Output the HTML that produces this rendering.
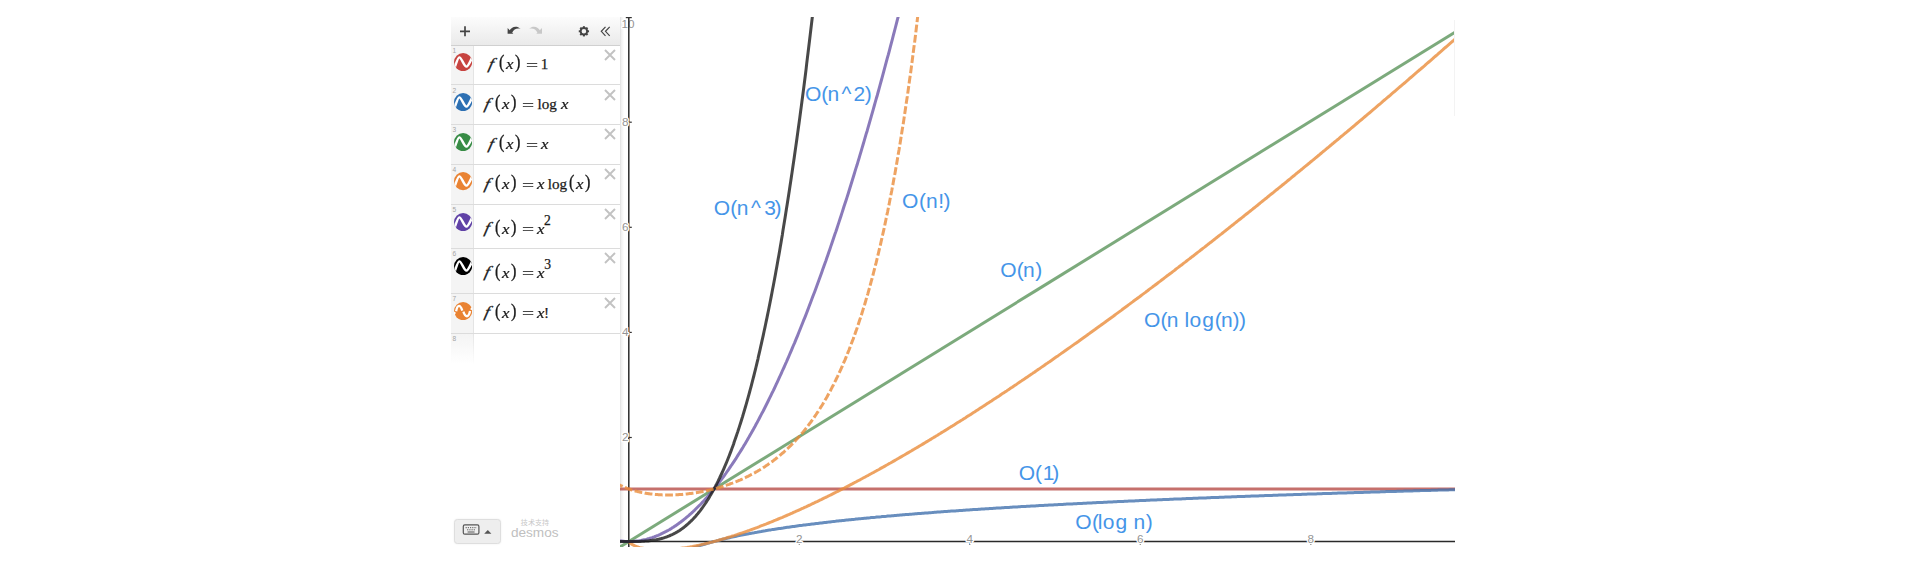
<!DOCTYPE html>
<html><head><meta charset="utf-8"><title>desmos</title>
<style>
html,body{margin:0;padding:0;background:#fff;}
body{width:1908px;height:572px;position:relative;overflow:hidden;font-family:"Liberation Sans","Noto Sans CJK SC",sans-serif;}
#panel{position:absolute;left:451px;top:17px;width:168.6px;height:530px;background:#fff;overflow:hidden;}
#bar{position:absolute;left:0;top:0;width:169px;height:28.6px;background:linear-gradient(#fcfcfc,#eaeaea);border-bottom:1px solid #d0d0d0;box-sizing:border-box;}
.row{position:absolute;left:0;width:169px;border-bottom:1px solid #dcdcdc;box-sizing:border-box;}
.tab{position:absolute;left:0;top:0;bottom:0;width:22px;background:#f4f4f4;border-right:1px solid #e4e4e4;}
.num{position:absolute;left:1.6px;top:1.2px;font-size:6.6px;color:#a4a4a4;line-height:7px;}
.ic{position:absolute;left:2.7px;}
.fx{position:absolute;left:0;top:0;font-family:"Liberation Serif",serif;color:#1a1a1a;}
.t{-webkit-text-stroke:0.25px #1a1a1a;position:absolute;display:inline-block;line-height:20px;white-space:nowrap;}
.x{position:absolute;left:152.8px;top:3.2px;}
#edge{position:absolute;left:620px;top:17px;width:3px;height:530px;background:linear-gradient(90deg,#dcdcdc,#f3f3f3 50%,#fff);}
#graph{position:absolute;left:0;top:0;}
.tk{font-family:"Liberation Sans",sans-serif;font-size:11.7px;fill:#949494;stroke:#fff;stroke-width:2.5px;paint-order:stroke;stroke-linejoin:round;}
.lb{font-family:"Liberation Sans",sans-serif;font-size:21px;fill:#4595e8;}
#kb{position:absolute;left:454.2px;top:519px;width:47.2px;height:24.5px;box-sizing:border-box;background:#eeeeee;border:1px solid #dedede;border-radius:3.5px;box-shadow:0 0 2px rgba(0,0,0,0.08);}
#pw{position:absolute;left:511px;top:518.5px;width:48px;text-align:center;font-size:7px;line-height:8px;color:#c8c8c8;letter-spacing:0.1px;}
#dm{position:absolute;left:511.1px;top:524.9px;font-size:13.6px;line-height:16px;color:#c0c0c0;letter-spacing:-0.05px;}
</style></head>
<body>
<svg id="graph" width="1908" height="572" viewBox="0 0 1908 572">
<defs><clipPath id="gc"><rect x="620" y="17" width="835" height="530"/></clipPath></defs>
<defs><linearGradient id="eg" x1="0" x2="1" y1="0" y2="0"><stop offset="0" stop-color="#d8d8d8"/><stop offset="0.35" stop-color="#efefef"/><stop offset="1" stop-color="#ffffff"/></linearGradient></defs>
<rect x="619.6" y="17" width="4.6" height="530" fill="url(#eg)"/>
<g clip-path="url(#gc)">
<text x="634.6" y="27.9" class="tk" text-anchor="end">10</text>
<line x1="628.8" y1="17" x2="628.8" y2="547" stroke="#2a2a2a" stroke-width="1.5"/>
<line x1="620" y1="541.4" x2="1455" y2="541.4" stroke="#2a2a2a" stroke-width="1.5"/>
<line x1="799.3" y1="540.4" x2="799.3" y2="544.8" stroke="#333" stroke-width="1.2"/>
<line x1="969.8" y1="540.4" x2="969.8" y2="544.8" stroke="#333" stroke-width="1.2"/>
<line x1="1140.3" y1="540.4" x2="1140.3" y2="544.8" stroke="#333" stroke-width="1.2"/>
<line x1="1310.8" y1="540.4" x2="1310.8" y2="544.8" stroke="#333" stroke-width="1.2"/>
<line x1="628.8" y1="437.5" x2="631.8" y2="437.5" stroke="#333" stroke-width="1.2"/>
<line x1="628.8" y1="332.4" x2="631.8" y2="332.4" stroke="#333" stroke-width="1.2"/>
<line x1="628.8" y1="227.3" x2="631.8" y2="227.3" stroke="#333" stroke-width="1.2"/>
<line x1="628.8" y1="122.2" x2="631.8" y2="122.2" stroke="#333" stroke-width="1.2"/>
<line x1="625.8" y1="17.6" x2="631.8" y2="17.6" stroke="#333" stroke-width="1.2"/>
<text x="799.3" y="542.6" class="tk" text-anchor="middle">2</text>
<text x="969.8" y="542.6" class="tk" text-anchor="middle">4</text>
<text x="1140.3" y="542.6" class="tk" text-anchor="middle">6</text>
<text x="1310.8" y="542.6" class="tk" text-anchor="middle">8</text>
<text x="628.5" y="440.8" class="tk" text-anchor="end">2</text>
<text x="628.5" y="335.7" class="tk" text-anchor="end">4</text>
<text x="628.5" y="230.6" class="tk" text-anchor="end">6</text>
<text x="628.5" y="125.5" class="tk" text-anchor="end">8</text>
<g style="filter:blur(0.35px)">
<path d="M615.7 488.9 L1037.5 488.9 L1459.3 488.9" stroke="#b64c47" stroke-opacity="0.8" stroke-width="3.0" fill="none" stroke-linejoin="round"/>
<path d="M638.6 590.9 L639.9 587.9 L641.3 585.3 L642.7 582.9 L644.1 580.7 L645.5 578.8 L646.8 577.0 L648.2 575.3 L649.6 573.7 L651.0 572.2 L652.3 570.9 L653.7 569.6 L655.1 568.3 L656.5 567.2 L657.8 566.1 L659.2 565.0 L660.6 564.0 L662.0 563.0 L663.4 562.1 L664.7 561.2 L666.1 560.4 L667.5 559.5 L668.9 558.7 L670.2 558.0 L671.6 557.2 L673.0 556.5 L674.4 555.8 L675.7 555.1 L677.1 554.5 L678.5 553.8 L679.9 553.2 L681.3 552.6 L682.6 552.0 L684.0 551.4 L685.4 550.9 L686.8 550.3 L688.1 549.8 L689.5 549.2 L690.9 548.7 L692.3 548.2 L693.7 547.7 L695.0 547.3 L696.4 546.8 L697.8 546.3 L699.2 545.9 L700.5 545.4 L701.9 545.0 L703.3 544.6 L704.7 544.2 L706.0 543.8 L707.4 543.3 L708.8 543.0 L710.2 542.6 L711.6 542.2 L712.9 541.8 L714.3 541.4 L715.7 541.1 L717.1 540.7 L718.4 540.4 L719.8 540.0 L721.2 539.7 L722.6 539.3 L723.9 539.0 L725.3 538.7 L726.7 538.3 L728.1 538.0 L729.5 537.7 L730.8 537.4 L732.2 537.1 L733.6 536.8 L735.0 536.5 L736.3 536.2 L737.7 535.9 L739.1 535.6 L740.5 535.3 L741.8 535.1 L743.2 534.8 L744.6 534.5 L746.0 534.2 L747.4 534.0 L748.7 533.7 L750.1 533.4 L751.5 533.2 L752.9 532.9 L754.2 532.7 L755.6 532.4 L757.0 532.2 L758.4 531.9 L759.7 531.7 L761.1 531.5 L762.5 531.2 L763.9 531.0 L765.3 530.8 L766.6 530.5 L768.0 530.3 L769.4 530.1 L770.8 529.9 L772.1 529.6 L773.5 529.4 L774.9 529.2 L776.3 529.0 L777.6 528.8 L779.0 528.6 L780.4 528.4 L781.8 528.2 L783.2 528.0 L784.5 527.7 L785.9 527.5 L787.3 527.3 L788.7 527.2 L790.0 527.0 L791.4 526.8 L792.8 526.6 L794.2 526.4 L795.5 526.2 L796.9 526.0 L798.3 525.8 L799.7 525.6 L801.1 525.4 L802.4 525.3 L803.8 525.1 L805.2 524.9 L806.6 524.7 L807.9 524.6 L809.3 524.4 L810.7 524.2 L812.1 524.0 L813.4 523.9 L814.8 523.7 L816.2 523.5 L817.6 523.4 L819.0 523.2 L820.3 523.0 L821.7 522.9 L823.1 522.7 L824.5 522.5 L825.8 522.4 L827.2 522.2 L828.6 522.1 L830.0 521.9 L831.4 521.7 L832.7 521.6 L834.1 521.4 L835.5 521.3 L836.9 521.1 L838.2 521.0 L839.6 520.8 L841.0 520.7 L842.4 520.5 L843.7 520.4 L845.1 520.2 L846.5 520.1 L847.9 520.0 L849.3 519.8 L850.6 519.7 L852.0 519.5 L853.4 519.4 L854.8 519.3 L856.1 519.1 L857.5 519.0 L858.9 518.8 L860.3 518.7 L861.6 518.6 L863.0 518.4 L864.4 518.3 L865.8 518.2 L867.2 518.0 L868.5 517.9 L869.9 517.8 L871.3 517.6 L872.7 517.5 L874.0 517.4 L875.4 517.3 L876.8 517.1 L878.2 517.0 L879.5 516.9 L880.9 516.8 L882.3 516.6 L883.7 516.5 L885.1 516.4 L886.4 516.3 L887.8 516.1 L889.2 516.0 L890.6 515.9 L891.9 515.8 L893.3 515.7 L894.7 515.5 L896.1 515.4 L897.4 515.3 L898.8 515.2 L900.2 515.1 L901.6 515.0 L903.0 514.8 L904.3 514.7 L905.7 514.6 L907.1 514.5 L908.5 514.4 L909.8 514.3 L911.2 514.2 L912.6 514.1 L914.0 513.9 L915.3 513.8 L916.7 513.7 L918.1 513.6 L919.5 513.5 L920.9 513.4 L922.2 513.3 L923.6 513.2 L925.0 513.1 L926.4 513.0 L927.7 512.9 L929.1 512.8 L930.5 512.7 L931.9 512.6 L933.2 512.4 L934.6 512.3 L936.0 512.2 L937.4 512.1 L938.8 512.0 L940.1 511.9 L941.5 511.8 L942.9 511.7 L944.3 511.6 L945.6 511.5 L947.0 511.4 L948.4 511.3 L949.8 511.2 L951.1 511.1 L952.5 511.0 L953.9 511.0 L955.3 510.9 L956.7 510.8 L958.0 510.7 L959.4 510.6 L960.8 510.5 L962.2 510.4 L963.5 510.3 L964.9 510.2 L966.3 510.1 L967.7 510.0 L969.1 509.9 L970.4 509.8 L971.8 509.7 L973.2 509.6 L974.6 509.5 L975.9 509.5 L977.3 509.4 L978.7 509.3 L980.1 509.2 L981.4 509.1 L982.8 509.0 L984.2 508.9 L985.6 508.8 L987.0 508.7 L988.3 508.7 L989.7 508.6 L991.1 508.5 L992.5 508.4 L993.8 508.3 L995.2 508.2 L996.6 508.1 L998.0 508.1 L999.3 508.0 L1000.7 507.9 L1002.1 507.8 L1003.5 507.7 L1004.9 507.6 L1006.2 507.5 L1007.6 507.5 L1009.0 507.4 L1010.4 507.3 L1011.7 507.2 L1013.1 507.1 L1014.5 507.1 L1015.9 507.0 L1017.2 506.9 L1018.6 506.8 L1020.0 506.7 L1021.4 506.6 L1022.8 506.6 L1024.1 506.5 L1025.5 506.4 L1026.9 506.3 L1028.3 506.3 L1029.6 506.2 L1031.0 506.1 L1032.4 506.0 L1033.8 505.9 L1035.1 505.9 L1036.5 505.8 L1037.9 505.7 L1039.3 505.6 L1040.7 505.6 L1042.0 505.5 L1043.4 505.4 L1044.8 505.3 L1046.2 505.3 L1047.5 505.2 L1048.9 505.1 L1050.3 505.0 L1051.7 505.0 L1053.0 504.9 L1054.4 504.8 L1055.8 504.7 L1057.2 504.7 L1058.6 504.6 L1059.9 504.5 L1061.3 504.4 L1062.7 504.4 L1064.1 504.3 L1065.4 504.2 L1066.8 504.1 L1068.2 504.1 L1069.6 504.0 L1070.9 503.9 L1072.3 503.9 L1073.7 503.8 L1075.1 503.7 L1076.5 503.7 L1077.8 503.6 L1079.2 503.5 L1080.6 503.4 L1082.0 503.4 L1083.3 503.3 L1084.7 503.2 L1086.1 503.2 L1087.5 503.1 L1088.8 503.0 L1090.2 503.0 L1091.6 502.9 L1093.0 502.8 L1094.4 502.8 L1095.7 502.7 L1097.1 502.6 L1098.5 502.6 L1099.9 502.5 L1101.2 502.4 L1102.6 502.4 L1104.0 502.3 L1105.4 502.2 L1106.8 502.2 L1108.1 502.1 L1109.5 502.0 L1110.9 502.0 L1112.3 501.9 L1113.6 501.8 L1115.0 501.8 L1116.4 501.7 L1117.8 501.6 L1119.1 501.6 L1120.5 501.5 L1121.9 501.4 L1123.3 501.4 L1124.7 501.3 L1126.0 501.3 L1127.4 501.2 L1128.8 501.1 L1130.2 501.1 L1131.5 501.0 L1132.9 500.9 L1134.3 500.9 L1135.7 500.8 L1137.0 500.8 L1138.4 500.7 L1139.8 500.6 L1141.2 500.6 L1142.6 500.5 L1143.9 500.4 L1145.3 500.4 L1146.7 500.3 L1148.1 500.3 L1149.4 500.2 L1150.8 500.1 L1152.2 500.1 L1153.6 500.0 L1154.9 500.0 L1156.3 499.9 L1157.7 499.8 L1159.1 499.8 L1160.5 499.7 L1161.8 499.7 L1163.2 499.6 L1164.6 499.5 L1166.0 499.5 L1167.3 499.4 L1168.7 499.4 L1170.1 499.3 L1171.5 499.3 L1172.8 499.2 L1174.2 499.1 L1175.6 499.1 L1177.0 499.0 L1178.4 499.0 L1179.7 498.9 L1181.1 498.9 L1182.5 498.8 L1183.9 498.7 L1185.2 498.7 L1186.6 498.6 L1188.0 498.6 L1189.4 498.5 L1190.7 498.5 L1192.1 498.4 L1193.5 498.3 L1194.9 498.3 L1196.3 498.2 L1197.6 498.2 L1199.0 498.1 L1200.4 498.1 L1201.8 498.0 L1203.1 498.0 L1204.5 497.9 L1205.9 497.9 L1207.3 497.8 L1208.6 497.7 L1210.0 497.7 L1211.4 497.6 L1212.8 497.6 L1214.2 497.5 L1215.5 497.5 L1216.9 497.4 L1218.3 497.4 L1219.7 497.3 L1221.0 497.3 L1222.4 497.2 L1223.8 497.2 L1225.2 497.1 L1226.5 497.1 L1227.9 497.0 L1229.3 496.9 L1230.7 496.9 L1232.1 496.8 L1233.4 496.8 L1234.8 496.7 L1236.2 496.7 L1237.6 496.6 L1238.9 496.6 L1240.3 496.5 L1241.7 496.5 L1243.1 496.4 L1244.5 496.4 L1245.8 496.3 L1247.2 496.3 L1248.6 496.2 L1250.0 496.2 L1251.3 496.1 L1252.7 496.1 L1254.1 496.0 L1255.5 496.0 L1256.8 495.9 L1258.2 495.9 L1259.6 495.8 L1261.0 495.8 L1262.4 495.7 L1263.7 495.7 L1265.1 495.6 L1266.5 495.6 L1267.9 495.5 L1269.2 495.5 L1270.6 495.4 L1272.0 495.4 L1273.4 495.3 L1274.7 495.3 L1276.1 495.2 L1277.5 495.2 L1278.9 495.1 L1280.3 495.1 L1281.6 495.0 L1283.0 495.0 L1284.4 494.9 L1285.8 494.9 L1287.1 494.8 L1288.5 494.8 L1289.9 494.8 L1291.3 494.7 L1292.6 494.7 L1294.0 494.6 L1295.4 494.6 L1296.8 494.5 L1298.2 494.5 L1299.5 494.4 L1300.9 494.4 L1302.3 494.3 L1303.7 494.3 L1305.0 494.2 L1306.4 494.2 L1307.8 494.1 L1309.2 494.1 L1310.5 494.1 L1311.9 494.0 L1313.3 494.0 L1314.7 493.9 L1316.1 493.9 L1317.4 493.8 L1318.8 493.8 L1320.2 493.7 L1321.6 493.7 L1322.9 493.6 L1324.3 493.6 L1325.7 493.5 L1327.1 493.5 L1328.4 493.5 L1329.8 493.4 L1331.2 493.4 L1332.6 493.3 L1334.0 493.3 L1335.3 493.2 L1336.7 493.2 L1338.1 493.1 L1339.5 493.1 L1340.8 493.1 L1342.2 493.0 L1343.6 493.0 L1345.0 492.9 L1346.3 492.9 L1347.7 492.8 L1349.1 492.8 L1350.5 492.8 L1351.9 492.7 L1353.2 492.7 L1354.6 492.6 L1356.0 492.6 L1357.4 492.5 L1358.7 492.5 L1360.1 492.4 L1361.5 492.4 L1362.9 492.4 L1364.2 492.3 L1365.6 492.3 L1367.0 492.2 L1368.4 492.2 L1369.8 492.2 L1371.1 492.1 L1372.5 492.1 L1373.9 492.0 L1375.3 492.0 L1376.6 491.9 L1378.0 491.9 L1379.4 491.9 L1380.8 491.8 L1382.2 491.8 L1383.5 491.7 L1384.9 491.7 L1386.3 491.6 L1387.7 491.6 L1389.0 491.6 L1390.4 491.5 L1391.8 491.5 L1393.2 491.4 L1394.5 491.4 L1395.9 491.4 L1397.3 491.3 L1398.7 491.3 L1400.1 491.2 L1401.4 491.2 L1402.8 491.2 L1404.2 491.1 L1405.6 491.1 L1406.9 491.0 L1408.3 491.0 L1409.7 491.0 L1411.1 490.9 L1412.4 490.9 L1413.8 490.8 L1415.2 490.8 L1416.6 490.8 L1418.0 490.7 L1419.3 490.7 L1420.7 490.6 L1422.1 490.6 L1423.5 490.6 L1424.8 490.5 L1426.2 490.5 L1427.6 490.4 L1429.0 490.4 L1430.3 490.4 L1431.7 490.3 L1433.1 490.3 L1434.5 490.2 L1435.9 490.2 L1437.2 490.2 L1438.6 490.1 L1440.0 490.1 L1441.4 490.0 L1442.7 490.0 L1444.1 490.0 L1445.5 489.9 L1446.9 489.9 L1448.2 489.9 L1449.6 489.8 L1451.0 489.8 L1452.4 489.7 L1453.8 489.7 L1455.1 489.7 L1456.5 489.6 L1457.9 489.6 L1459.3 489.5" stroke="#4272ae" stroke-opacity="0.8" stroke-width="3.0" fill="none" stroke-linejoin="round"/>
<path d="M615.7 549.6 L1037.5 289.6 L1459.3 29.6" stroke="#5b955b" stroke-opacity="0.8" stroke-width="3.0" fill="none" stroke-linejoin="round"/>
<path d="M628.8 541.6 L630.2 543.1 L631.6 544.1 L633.0 544.9 L634.4 545.6 L635.8 546.2 L637.1 546.7 L638.5 547.2 L639.9 547.6 L641.3 547.9 L642.7 548.2 L644.1 548.5 L645.5 548.8 L646.8 549.0 L648.2 549.2 L649.6 549.4 L651.0 549.5 L652.4 549.6 L653.8 549.7 L655.1 549.8 L656.5 549.8 L657.9 549.9 L659.3 549.9 L660.7 549.9 L662.1 549.9 L663.4 549.9 L664.8 549.8 L666.2 549.7 L667.6 549.7 L669.0 549.6 L670.4 549.5 L671.7 549.4 L673.1 549.3 L674.5 549.1 L675.9 549.0 L677.3 548.8 L678.7 548.7 L680.1 548.5 L681.4 548.3 L682.8 548.1 L684.2 547.9 L685.6 547.7 L687.0 547.5 L688.4 547.2 L689.7 547.0 L691.1 546.7 L692.5 546.5 L693.9 546.2 L695.3 545.9 L696.7 545.6 L698.0 545.4 L699.4 545.1 L700.8 544.8 L702.2 544.4 L703.6 544.1 L705.0 543.8 L706.3 543.5 L707.7 543.1 L709.1 542.8 L710.5 542.4 L711.9 542.1 L713.3 541.7 L714.7 541.3 L716.0 541.0 L717.4 540.6 L718.8 540.2 L720.2 539.8 L721.6 539.4 L723.0 539.0 L724.3 538.6 L725.7 538.2 L727.1 537.7 L728.5 537.3 L729.9 536.9 L731.3 536.5 L732.6 536.0 L734.0 535.6 L735.4 535.1 L736.8 534.7 L738.2 534.2 L739.6 533.7 L740.9 533.3 L742.3 532.8 L743.7 532.3 L745.1 531.8 L746.5 531.3 L747.9 530.8 L749.3 530.4 L750.6 529.9 L752.0 529.3 L753.4 528.8 L754.8 528.3 L756.2 527.8 L757.6 527.3 L758.9 526.8 L760.3 526.2 L761.7 525.7 L763.1 525.2 L764.5 524.6 L765.9 524.1 L767.2 523.5 L768.6 523.0 L770.0 522.4 L771.4 521.9 L772.8 521.3 L774.2 520.7 L775.6 520.2 L776.9 519.6 L778.3 519.0 L779.7 518.4 L781.1 517.8 L782.5 517.3 L783.9 516.7 L785.2 516.1 L786.6 515.5 L788.0 514.9 L789.4 514.3 L790.8 513.7 L792.2 513.1 L793.5 512.4 L794.9 511.8 L796.3 511.2 L797.7 510.6 L799.1 510.0 L800.5 509.3 L801.8 508.7 L803.2 508.1 L804.6 507.4 L806.0 506.8 L807.4 506.1 L808.8 505.5 L810.2 504.9 L811.5 504.2 L812.9 503.5 L814.3 502.9 L815.7 502.2 L817.1 501.6 L818.5 500.9 L819.8 500.2 L821.2 499.6 L822.6 498.9 L824.0 498.2 L825.4 497.5 L826.8 496.9 L828.1 496.2 L829.5 495.5 L830.9 494.8 L832.3 494.1 L833.7 493.4 L835.1 492.7 L836.4 492.0 L837.8 491.3 L839.2 490.6 L840.6 489.9 L842.0 489.2 L843.4 488.5 L844.8 487.8 L846.1 487.0 L847.5 486.3 L848.9 485.6 L850.3 484.9 L851.7 484.2 L853.1 483.4 L854.4 482.7 L855.8 482.0 L857.2 481.2 L858.6 480.5 L860.0 479.8 L861.4 479.0 L862.7 478.3 L864.1 477.5 L865.5 476.8 L866.9 476.0 L868.3 475.3 L869.7 474.5 L871.0 473.8 L872.4 473.0 L873.8 472.3 L875.2 471.5 L876.6 470.7 L878.0 470.0 L879.4 469.2 L880.7 468.4 L882.1 467.6 L883.5 466.9 L884.9 466.1 L886.3 465.3 L887.7 464.5 L889.0 463.7 L890.4 463.0 L891.8 462.2 L893.2 461.4 L894.6 460.6 L896.0 459.8 L897.3 459.0 L898.7 458.2 L900.1 457.4 L901.5 456.6 L902.9 455.8 L904.3 455.0 L905.6 454.2 L907.0 453.4 L908.4 452.6 L909.8 451.8 L911.2 451.0 L912.6 450.1 L914.0 449.3 L915.3 448.5 L916.7 447.7 L918.1 446.9 L919.5 446.0 L920.9 445.2 L922.3 444.4 L923.6 443.6 L925.0 442.7 L926.4 441.9 L927.8 441.1 L929.2 440.2 L930.6 439.4 L931.9 438.5 L933.3 437.7 L934.7 436.9 L936.1 436.0 L937.5 435.2 L938.9 434.3 L940.3 433.5 L941.6 432.6 L943.0 431.8 L944.4 430.9 L945.8 430.1 L947.2 429.2 L948.6 428.3 L949.9 427.5 L951.3 426.6 L952.7 425.8 L954.1 424.9 L955.5 424.0 L956.9 423.1 L958.2 422.3 L959.6 421.4 L961.0 420.5 L962.4 419.7 L963.8 418.8 L965.2 417.9 L966.5 417.0 L967.9 416.1 L969.3 415.3 L970.7 414.4 L972.1 413.5 L973.5 412.6 L974.9 411.7 L976.2 410.8 L977.6 409.9 L979.0 409.0 L980.4 408.1 L981.8 407.2 L983.2 406.3 L984.5 405.4 L985.9 404.5 L987.3 403.6 L988.7 402.7 L990.1 401.8 L991.5 400.9 L992.8 400.0 L994.2 399.1 L995.6 398.2 L997.0 397.3 L998.4 396.4 L999.8 395.5 L1001.1 394.5 L1002.5 393.6 L1003.9 392.7 L1005.3 391.8 L1006.7 390.9 L1008.1 389.9 L1009.5 389.0 L1010.8 388.1 L1012.2 387.2 L1013.6 386.2 L1015.0 385.3 L1016.4 384.4 L1017.8 383.4 L1019.1 382.5 L1020.5 381.6 L1021.9 380.6 L1023.3 379.7 L1024.7 378.8 L1026.1 377.8 L1027.4 376.9 L1028.8 375.9 L1030.2 375.0 L1031.6 374.1 L1033.0 373.1 L1034.4 372.2 L1035.7 371.2 L1037.1 370.3 L1038.5 369.3 L1039.9 368.4 L1041.3 367.4 L1042.7 366.4 L1044.1 365.5 L1045.4 364.5 L1046.8 363.6 L1048.2 362.6 L1049.6 361.7 L1051.0 360.7 L1052.4 359.7 L1053.7 358.8 L1055.1 357.8 L1056.5 356.8 L1057.9 355.9 L1059.3 354.9 L1060.7 353.9 L1062.0 352.9 L1063.4 352.0 L1064.8 351.0 L1066.2 350.0 L1067.6 349.0 L1069.0 348.1 L1070.3 347.1 L1071.7 346.1 L1073.1 345.1 L1074.5 344.1 L1075.9 343.2 L1077.3 342.2 L1078.7 341.2 L1080.0 340.2 L1081.4 339.2 L1082.8 338.2 L1084.2 337.2 L1085.6 336.2 L1087.0 335.2 L1088.3 334.2 L1089.7 333.3 L1091.1 332.3 L1092.5 331.3 L1093.9 330.3 L1095.3 329.3 L1096.6 328.3 L1098.0 327.3 L1099.4 326.3 L1100.8 325.3 L1102.2 324.2 L1103.6 323.2 L1105.0 322.2 L1106.3 321.2 L1107.7 320.2 L1109.1 319.2 L1110.5 318.2 L1111.9 317.2 L1113.3 316.2 L1114.6 315.2 L1116.0 314.1 L1117.4 313.1 L1118.8 312.1 L1120.2 311.1 L1121.6 310.1 L1122.9 309.0 L1124.3 308.0 L1125.7 307.0 L1127.1 306.0 L1128.5 304.9 L1129.9 303.9 L1131.2 302.9 L1132.6 301.9 L1134.0 300.8 L1135.4 299.8 L1136.8 298.8 L1138.2 297.7 L1139.6 296.7 L1140.9 295.7 L1142.3 294.6 L1143.7 293.6 L1145.1 292.6 L1146.5 291.5 L1147.9 290.5 L1149.2 289.4 L1150.6 288.4 L1152.0 287.4 L1153.4 286.3 L1154.8 285.3 L1156.2 284.2 L1157.5 283.2 L1158.9 282.1 L1160.3 281.1 L1161.7 280.0 L1163.1 279.0 L1164.5 277.9 L1165.8 276.9 L1167.2 275.8 L1168.6 274.8 L1170.0 273.7 L1171.4 272.7 L1172.8 271.6 L1174.2 270.6 L1175.5 269.5 L1176.9 268.4 L1178.3 267.4 L1179.7 266.3 L1181.1 265.3 L1182.5 264.2 L1183.8 263.1 L1185.2 262.1 L1186.6 261.0 L1188.0 259.9 L1189.4 258.9 L1190.8 257.8 L1192.1 256.7 L1193.5 255.7 L1194.9 254.6 L1196.3 253.5 L1197.7 252.4 L1199.1 251.4 L1200.4 250.3 L1201.8 249.2 L1203.2 248.1 L1204.6 247.1 L1206.0 246.0 L1207.4 244.9 L1208.8 243.8 L1210.1 242.7 L1211.5 241.7 L1212.9 240.6 L1214.3 239.5 L1215.7 238.4 L1217.1 237.3 L1218.4 236.2 L1219.8 235.1 L1221.2 234.1 L1222.6 233.0 L1224.0 231.9 L1225.4 230.8 L1226.7 229.7 L1228.1 228.6 L1229.5 227.5 L1230.9 226.4 L1232.3 225.3 L1233.7 224.2 L1235.0 223.1 L1236.4 222.0 L1237.8 220.9 L1239.2 219.8 L1240.6 218.7 L1242.0 217.6 L1243.4 216.5 L1244.7 215.4 L1246.1 214.3 L1247.5 213.2 L1248.9 212.1 L1250.3 211.0 L1251.7 209.9 L1253.0 208.8 L1254.4 207.7 L1255.8 206.6 L1257.2 205.5 L1258.6 204.3 L1260.0 203.2 L1261.3 202.1 L1262.7 201.0 L1264.1 199.9 L1265.5 198.8 L1266.9 197.7 L1268.3 196.5 L1269.6 195.4 L1271.0 194.3 L1272.4 193.2 L1273.8 192.1 L1275.2 190.9 L1276.6 189.8 L1278.0 188.7 L1279.3 187.6 L1280.7 186.5 L1282.1 185.3 L1283.5 184.2 L1284.9 183.1 L1286.3 182.0 L1287.6 180.8 L1289.0 179.7 L1290.4 178.6 L1291.8 177.4 L1293.2 176.3 L1294.6 175.2 L1295.9 174.0 L1297.3 172.9 L1298.7 171.8 L1300.1 170.6 L1301.5 169.5 L1302.9 168.4 L1304.3 167.2 L1305.6 166.1 L1307.0 165.0 L1308.4 163.8 L1309.8 162.7 L1311.2 161.5 L1312.6 160.4 L1313.9 159.3 L1315.3 158.1 L1316.7 157.0 L1318.1 155.8 L1319.5 154.7 L1320.9 153.5 L1322.2 152.4 L1323.6 151.2 L1325.0 150.1 L1326.4 148.9 L1327.8 147.8 L1329.2 146.6 L1330.5 145.5 L1331.9 144.3 L1333.3 143.2 L1334.7 142.0 L1336.1 140.9 L1337.5 139.7 L1338.9 138.6 L1340.2 137.4 L1341.6 136.2 L1343.0 135.1 L1344.4 133.9 L1345.8 132.8 L1347.2 131.6 L1348.5 130.5 L1349.9 129.3 L1351.3 128.1 L1352.7 127.0 L1354.1 125.8 L1355.5 124.6 L1356.8 123.5 L1358.2 122.3 L1359.6 121.1 L1361.0 120.0 L1362.4 118.8 L1363.8 117.6 L1365.1 116.5 L1366.5 115.3 L1367.9 114.1 L1369.3 113.0 L1370.7 111.8 L1372.1 110.6 L1373.5 109.4 L1374.8 108.3 L1376.2 107.1 L1377.6 105.9 L1379.0 104.7 L1380.4 103.6 L1381.8 102.4 L1383.1 101.2 L1384.5 100.0 L1385.9 98.9 L1387.3 97.7 L1388.7 96.5 L1390.1 95.3 L1391.4 94.1 L1392.8 92.9 L1394.2 91.8 L1395.6 90.6 L1397.0 89.4 L1398.4 88.2 L1399.7 87.0 L1401.1 85.8 L1402.5 84.6 L1403.9 83.5 L1405.3 82.3 L1406.7 81.1 L1408.1 79.9 L1409.4 78.7 L1410.8 77.5 L1412.2 76.3 L1413.6 75.1 L1415.0 73.9 L1416.4 72.7 L1417.7 71.5 L1419.1 70.3 L1420.5 69.2 L1421.9 68.0 L1423.3 66.8 L1424.7 65.6 L1426.0 64.4 L1427.4 63.2 L1428.8 62.0 L1430.2 60.8 L1431.6 59.6 L1433.0 58.4 L1434.3 57.2 L1435.7 56.0 L1437.1 54.8 L1438.5 53.5 L1439.9 52.3 L1441.3 51.1 L1442.7 49.9 L1444.0 48.7 L1445.4 47.5 L1446.8 46.3 L1448.2 45.1 L1449.6 43.9 L1451.0 42.7 L1452.3 41.5 L1453.7 40.3 L1455.1 39.0 L1456.5 37.8 L1457.9 36.6 L1459.3 35.4" stroke="#ea8c3b" stroke-opacity="0.8" stroke-width="3.0" fill="none" stroke-linejoin="round"/>
<path d="M615.7 540.3 L616.7 540.4 L617.8 540.6 L618.8 540.8 L619.8 540.9 L620.8 541.0 L621.8 541.1 L622.8 541.2 L623.8 541.3 L624.8 541.4 L625.8 541.4 L626.8 541.5 L627.9 541.5 L628.9 541.5 L629.9 541.5 L630.9 541.5 L631.9 541.4 L632.9 541.4 L633.9 541.3 L634.9 541.2 L635.9 541.1 L636.9 541.0 L638.0 540.9 L639.0 540.8 L640.0 540.6 L641.0 540.4 L642.0 540.2 L643.0 540.0 L644.0 539.8 L645.0 539.6 L646.0 539.4 L647.0 539.1 L648.0 538.8 L649.1 538.5 L650.1 538.2 L651.1 537.9 L652.1 537.6 L653.1 537.2 L654.1 536.9 L655.1 536.5 L656.1 536.1 L657.1 535.7 L658.1 535.3 L659.2 534.8 L660.2 534.4 L661.2 533.9 L662.2 533.4 L663.2 532.9 L664.2 532.4 L665.2 531.9 L666.2 531.4 L667.2 530.8 L668.2 530.3 L669.3 529.7 L670.3 529.1 L671.3 528.5 L672.3 527.8 L673.3 527.2 L674.3 526.5 L675.3 525.9 L676.3 525.2 L677.3 524.5 L678.3 523.8 L679.3 523.0 L680.4 522.3 L681.4 521.5 L682.4 520.7 L683.4 520.0 L684.4 519.1 L685.4 518.3 L686.4 517.5 L687.4 516.6 L688.4 515.8 L689.4 514.9 L690.5 514.0 L691.5 513.1 L692.5 512.2 L693.5 511.2 L694.5 510.3 L695.5 509.3 L696.5 508.3 L697.5 507.3 L698.5 506.3 L699.5 505.3 L700.6 504.3 L701.6 503.2 L702.6 502.1 L703.6 501.1 L704.6 500.0 L705.6 498.8 L706.6 497.7 L707.6 496.6 L708.6 495.4 L709.6 494.2 L710.7 493.1 L711.7 491.9 L712.7 490.6 L713.7 489.4 L714.7 488.2 L715.7 486.9 L716.7 485.6 L717.7 484.3 L718.7 483.0 L719.7 481.7 L720.7 480.4 L721.8 479.0 L722.8 477.7 L723.8 476.3 L724.8 474.9 L725.8 473.5 L726.8 472.0 L727.8 470.6 L728.8 469.2 L729.8 467.7 L730.8 466.2 L731.9 464.7 L732.9 463.2 L733.9 461.7 L734.9 460.1 L735.9 458.6 L736.9 457.0 L737.9 455.4 L738.9 453.8 L739.9 452.2 L740.9 450.6 L742.0 448.9 L743.0 447.3 L744.0 445.6 L745.0 443.9 L746.0 442.2 L747.0 440.5 L748.0 438.7 L749.0 437.0 L750.0 435.2 L751.0 433.5 L752.0 431.7 L753.1 429.9 L754.1 428.0 L755.1 426.2 L756.1 424.3 L757.1 422.5 L758.1 420.6 L759.1 418.7 L760.1 416.8 L761.1 414.9 L762.1 412.9 L763.2 411.0 L764.2 409.0 L765.2 407.0 L766.2 405.0 L767.2 403.0 L768.2 401.0 L769.2 398.9 L770.2 396.9 L771.2 394.8 L772.2 392.7 L773.3 390.6 L774.3 388.5 L775.3 386.4 L776.3 384.2 L777.3 382.1 L778.3 379.9 L779.3 377.7 L780.3 375.5 L781.3 373.3 L782.3 371.0 L783.3 368.8 L784.4 366.5 L785.4 364.2 L786.4 362.0 L787.4 359.6 L788.4 357.3 L789.4 355.0 L790.4 352.6 L791.4 350.3 L792.4 347.9 L793.4 345.5 L794.5 343.1 L795.5 340.6 L796.5 338.2 L797.5 335.8 L798.5 333.3 L799.5 330.8 L800.5 328.3 L801.5 325.8 L802.5 323.3 L803.5 320.7 L804.6 318.1 L805.6 315.6 L806.6 313.0 L807.6 310.4 L808.6 307.8 L809.6 305.1 L810.6 302.5 L811.6 299.8 L812.6 297.1 L813.6 294.5 L814.7 291.7 L815.7 289.0 L816.7 286.3 L817.7 283.5 L818.7 280.8 L819.7 278.0 L820.7 275.2 L821.7 272.4 L822.7 269.6 L823.7 266.7 L824.7 263.9 L825.8 261.0 L826.8 258.1 L827.8 255.2 L828.8 252.3 L829.8 249.4 L830.8 246.4 L831.8 243.5 L832.8 240.5 L833.8 237.5 L834.8 234.5 L835.9 231.5 L836.9 228.5 L837.9 225.4 L838.9 222.4 L839.9 219.3 L840.9 216.2 L841.9 213.1 L842.9 210.0 L843.9 206.8 L844.9 203.7 L846.0 200.5 L847.0 197.4 L848.0 194.2 L849.0 191.0 L850.0 187.7 L851.0 184.5 L852.0 181.2 L853.0 178.0 L854.0 174.7 L855.0 171.4 L856.0 168.1 L857.1 164.8 L858.1 161.4 L859.1 158.1 L860.1 154.7 L861.1 151.3 L862.1 147.9 L863.1 144.5 L864.1 141.1 L865.1 137.6 L866.1 134.2 L867.2 130.7 L868.2 127.2 L869.2 123.7 L870.2 120.2 L871.2 116.7 L872.2 113.1 L873.2 109.6 L874.2 106.0 L875.2 102.4 L876.2 98.8 L877.3 95.2 L878.3 91.5 L879.3 87.9 L880.3 84.2 L881.3 80.5 L882.3 76.8 L883.3 73.1 L884.3 69.4 L885.3 65.7 L886.3 61.9 L887.3 58.1 L888.4 54.4 L889.4 50.6 L890.4 46.7 L891.4 42.9 L892.4 39.1 L893.4 35.2 L894.4 31.4 L895.4 27.5 L896.4 23.6 L897.4 19.7 L898.5 15.7 L899.5 11.8 L900.5 7.8 L901.5 3.8 L902.5 -0.1 L903.5 -4.2 L904.5 -8.2 L905.5 -12.2 L906.5 -16.3 L907.5 -20.3 L908.6 -24.4 L909.6 -28.5 L910.6 -32.6 L911.6 -36.7 L912.6 -40.8 L913.6 -45.0 L914.6 -49.2 L915.6 -53.3 L916.6 -57.5 L917.6 -61.8 L918.6 -66.0" stroke="#6d59a9" stroke-opacity="0.8" stroke-width="3.0" fill="none" stroke-linejoin="round"/>
<path d="M615.7 541.7 L616.4 541.7 L617.1 541.6 L617.8 541.6 L618.5 541.6 L619.2 541.6 L619.9 541.6 L620.6 541.5 L621.3 541.5 L622.0 541.5 L622.7 541.5 L623.4 541.5 L624.1 541.5 L624.8 541.5 L625.5 541.5 L626.2 541.5 L626.9 541.5 L627.6 541.5 L628.3 541.5 L629.0 541.5 L629.7 541.5 L630.4 541.5 L631.1 541.5 L631.8 541.5 L632.5 541.5 L633.2 541.5 L633.9 541.5 L634.6 541.5 L635.3 541.5 L636.0 541.5 L636.7 541.5 L637.3 541.4 L638.0 541.4 L638.7 541.4 L639.4 541.4 L640.1 541.4 L640.8 541.4 L641.5 541.3 L642.2 541.3 L642.9 541.3 L643.6 541.2 L644.3 541.2 L645.0 541.1 L645.7 541.1 L646.4 541.0 L647.1 541.0 L647.8 540.9 L648.5 540.9 L649.2 540.8 L649.9 540.7 L650.6 540.6 L651.3 540.5 L652.0 540.4 L652.7 540.3 L653.4 540.2 L654.1 540.1 L654.8 540.0 L655.5 539.9 L656.2 539.8 L656.9 539.6 L657.6 539.5 L658.3 539.3 L659.0 539.2 L659.7 539.0 L660.4 538.8 L661.1 538.7 L661.7 538.5 L662.4 538.3 L663.1 538.1 L663.8 537.9 L664.5 537.6 L665.2 537.4 L665.9 537.2 L666.6 536.9 L667.3 536.7 L668.0 536.4 L668.7 536.1 L669.4 535.8 L670.1 535.5 L670.8 535.2 L671.5 534.9 L672.2 534.6 L672.9 534.2 L673.6 533.9 L674.3 533.5 L675.0 533.1 L675.7 532.8 L676.4 532.4 L677.1 532.0 L677.8 531.5 L678.5 531.1 L679.2 530.7 L679.9 530.2 L680.6 529.7 L681.3 529.2 L682.0 528.8 L682.7 528.2 L683.4 527.7 L684.1 527.2 L684.8 526.6 L685.4 526.1 L686.1 525.5 L686.8 524.9 L687.5 524.3 L688.2 523.7 L688.9 523.1 L689.6 522.4 L690.3 521.7 L691.0 521.1 L691.7 520.4 L692.4 519.7 L693.1 518.9 L693.8 518.2 L694.5 517.4 L695.2 516.7 L695.9 515.9 L696.6 515.1 L697.3 514.2 L698.0 513.4 L698.7 512.5 L699.4 511.7 L700.1 510.8 L700.8 509.9 L701.5 508.9 L702.2 508.0 L702.9 507.0 L703.6 506.0 L704.3 505.0 L705.0 504.0 L705.7 503.0 L706.4 501.9 L707.1 500.8 L707.8 499.7 L708.5 498.6 L709.2 497.5 L709.8 496.3 L710.5 495.2 L711.2 494.0 L711.9 492.8 L712.6 491.5 L713.3 490.3 L714.0 489.0 L714.7 487.7 L715.4 486.4 L716.1 485.0 L716.8 483.7 L717.5 482.3 L718.2 480.9 L718.9 479.4 L719.6 478.0 L720.3 476.5 L721.0 475.0 L721.7 473.5 L722.4 472.0 L723.1 470.4 L723.8 468.8 L724.5 467.2 L725.2 465.5 L725.9 463.9 L726.6 462.2 L727.3 460.5 L728.0 458.8 L728.7 457.0 L729.4 455.2 L730.1 453.4 L730.8 451.6 L731.5 449.7 L732.2 447.8 L732.9 445.9 L733.6 444.0 L734.2 442.0 L734.9 440.1 L735.6 438.1 L736.3 436.0 L737.0 433.9 L737.7 431.9 L738.4 429.7 L739.1 427.6 L739.8 425.4 L740.5 423.2 L741.2 421.0 L741.9 418.7 L742.6 416.5 L743.3 414.1 L744.0 411.8 L744.7 409.4 L745.4 407.0 L746.1 404.6 L746.8 402.2 L747.5 399.7 L748.2 397.2 L748.9 394.6 L749.6 392.0 L750.3 389.4 L751.0 386.8 L751.7 384.1 L752.4 381.4 L753.1 378.7 L753.8 376.0 L754.5 373.2 L755.2 370.4 L755.9 367.5 L756.6 364.6 L757.3 361.7 L758.0 358.8 L758.6 355.8 L759.3 352.8 L760.0 349.8 L760.7 346.7 L761.4 343.6 L762.1 340.4 L762.8 337.3 L763.5 334.1 L764.2 330.8 L764.9 327.6 L765.6 324.3 L766.3 320.9 L767.0 317.6 L767.7 314.1 L768.4 310.7 L769.1 307.2 L769.8 303.7 L770.5 300.2 L771.2 296.6 L771.9 293.0 L772.6 289.3 L773.3 285.7 L774.0 281.9 L774.7 278.2 L775.4 274.4 L776.1 270.6 L776.8 266.7 L777.5 262.8 L778.2 258.8 L778.9 254.9 L779.6 250.9 L780.3 246.8 L781.0 242.7 L781.7 238.6 L782.4 234.4 L783.0 230.2 L783.7 226.0 L784.4 221.7 L785.1 217.4 L785.8 213.0 L786.5 208.6 L787.2 204.2 L787.9 199.7 L788.6 195.2 L789.3 190.7 L790.0 186.1 L790.7 181.5 L791.4 176.8 L792.1 172.1 L792.8 167.3 L793.5 162.5 L794.2 157.7 L794.9 152.8 L795.6 147.9 L796.3 143.0 L797.0 138.0 L797.7 132.9 L798.4 127.8 L799.1 122.7 L799.8 117.6 L800.5 112.3 L801.2 107.1 L801.9 101.8 L802.6 96.5 L803.3 91.1 L804.0 85.7 L804.7 80.2 L805.4 74.7 L806.1 69.1 L806.7 63.6 L807.4 57.9 L808.1 52.2 L808.8 46.5 L809.5 40.7 L810.2 34.9 L810.9 29.0 L811.6 23.1 L812.3 17.2 L813.0 11.2 L813.7 5.2 L814.4 -0.9 L815.1 -7.1 L815.8 -13.3 L816.5 -19.5 L817.2 -25.8 L817.9 -32.1 L818.6 -38.4 L819.3 -44.9 L820.0 -51.3 L820.7 -57.8 L821.4 -64.4 L822.1 -71.0 L822.8 -77.6 L823.5 -84.3" stroke="#1a1a1a" stroke-opacity="0.8" stroke-width="3.0" fill="none" stroke-linejoin="round"/>
<path d="M615.7 482.9 L616.6 483.4 L617.4 483.8 L618.2 484.3 L619.0 484.7 L619.8 485.1 L620.7 485.5 L621.5 485.9 L622.3 486.3 L623.1 486.7 L623.9 487.0 L624.8 487.4 L625.6 487.7 L626.4 488.1 L627.2 488.4 L628.1 488.7 L628.9 489.0 L629.7 489.3 L630.5 489.5 L631.3 489.8 L632.2 490.1 L633.0 490.3 L633.8 490.6 L634.6 490.8 L635.4 491.0 L636.3 491.2 L637.1 491.4 L637.9 491.7 L638.7 491.8 L639.6 492.0 L640.4 492.2 L641.2 492.4 L642.0 492.6 L642.8 492.7 L643.7 492.9 L644.5 493.0 L645.3 493.2 L646.1 493.3 L646.9 493.4 L647.8 493.5 L648.6 493.7 L649.4 493.8 L650.2 493.9 L651.0 494.0 L651.9 494.1 L652.7 494.2 L653.5 494.3 L654.3 494.3 L655.2 494.4 L656.0 494.5 L656.8 494.5 L657.6 494.6 L658.4 494.7 L659.3 494.7 L660.1 494.8 L660.9 494.8 L661.7 494.8 L662.5 494.9 L663.4 494.9 L664.2 494.9 L665.0 494.9 L665.8 494.9 L666.7 495.0 L667.5 495.0 L668.3 495.0 L669.1 495.0 L669.9 495.0 L670.8 494.9 L671.6 494.9 L672.4 494.9 L673.2 494.9 L674.0 494.9 L674.9 494.8 L675.7 494.8 L676.5 494.8 L677.3 494.7 L678.2 494.7 L679.0 494.6 L679.8 494.6 L680.6 494.5 L681.4 494.4 L682.3 494.4 L683.1 494.3 L683.9 494.2 L684.7 494.2 L685.5 494.1 L686.4 494.0 L687.2 493.9 L688.0 493.8 L688.8 493.7 L689.6 493.6 L690.5 493.5 L691.3 493.4 L692.1 493.3 L692.9 493.2 L693.8 493.1 L694.6 492.9 L695.4 492.8 L696.2 492.7 L697.0 492.5 L697.9 492.4 L698.7 492.3 L699.5 492.1 L700.3 492.0 L701.1 491.8 L702.0 491.7 L702.8 491.5 L703.6 491.4 L704.4 491.2 L705.3 491.0 L706.1 490.8 L706.9 490.7 L707.7 490.5 L708.5 490.3 L709.4 490.1 L710.2 489.9 L711.0 489.7 L711.8 489.5 L712.6 489.3 L713.5 489.1 L714.3 488.9 L715.1 488.7 L715.9 488.5 L716.7 488.2 L717.6 488.0 L718.4 487.8 L719.2 487.5 L720.0 487.3 L720.9 487.0 L721.7 486.8 L722.5 486.5 L723.3 486.3 L724.1 486.0 L725.0 485.7 L725.8 485.5 L726.6 485.2 L727.4 484.9 L728.2 484.6 L729.1 484.3 L729.9 484.0 L730.7 483.7 L731.5 483.4 L732.4 483.1 L733.2 482.8 L734.0 482.5 L734.8 482.2 L735.6 481.9 L736.5 481.5 L737.3 481.2 L738.1 480.8 L738.9 480.5 L739.7 480.1 L740.6 479.8 L741.4 479.4 L742.2 479.1 L743.0 478.7 L743.8 478.3 L744.7 477.9 L745.5 477.5 L746.3 477.1 L747.1 476.7 L748.0 476.3 L748.8 475.9 L749.6 475.5 L750.4 475.1 L751.2 474.6 L752.1 474.2 L752.9 473.8 L753.7 473.3 L754.5 472.9 L755.3 472.4 L756.2 471.9 L757.0 471.5 L757.8 471.0 L758.6 470.5 L759.5 470.0 L760.3 469.5 L761.1 469.0 L761.9 468.5 L762.7 468.0 L763.6 467.4 L764.4 466.9 L765.2 466.4 L766.0 465.8 L766.8 465.3 L767.7 464.7 L768.5 464.1 L769.3 463.6 L770.1 463.0 L770.9 462.4 L771.8 461.8 L772.6 461.2 L773.4 460.6 L774.2 459.9 L775.1 459.3 L775.9 458.7 L776.7 458.0 L777.5 457.4 L778.3 456.7 L779.2 456.0 L780.0 455.3 L780.8 454.6 L781.6 453.9 L782.4 453.2 L783.3 452.5 L784.1 451.8 L784.9 451.0 L785.7 450.3 L786.6 449.5 L787.4 448.8 L788.2 448.0 L789.0 447.2 L789.8 446.4 L790.7 445.6 L791.5 444.8 L792.3 443.9 L793.1 443.1 L793.9 442.2 L794.8 441.4 L795.6 440.5 L796.4 439.6 L797.2 438.7 L798.0 437.8 L798.9 436.9 L799.7 436.0 L800.5 435.0 L801.3 434.0 L802.2 433.1 L803.0 432.1 L803.8 431.1 L804.6 430.1 L805.4 429.1 L806.3 428.0 L807.1 427.0 L807.9 425.9 L808.7 424.8 L809.5 423.7 L810.4 422.6 L811.2 421.5 L812.0 420.4 L812.8 419.2 L813.7 418.1 L814.5 416.9 L815.3 415.7 L816.1 414.5 L816.9 413.2 L817.8 412.0 L818.6 410.7 L819.4 409.5 L820.2 408.2 L821.0 406.8 L821.9 405.5 L822.7 404.2 L823.5 402.8 L824.3 401.4 L825.1 400.0 L826.0 398.6 L826.8 397.2 L827.6 395.7 L828.4 394.2 L829.3 392.7 L830.1 391.2 L830.9 389.7 L831.7 388.1 L832.5 386.5 L833.4 384.9 L834.2 383.3 L835.0 381.6 L835.8 380.0 L836.6 378.3 L837.5 376.6 L838.3 374.8 L839.1 373.1 L839.9 371.3 L840.8 369.5 L841.6 367.7 L842.4 365.8 L843.2 363.9 L844.0 362.0 L844.9 360.1 L845.7 358.1 L846.5 356.1 L847.3 354.1 L848.1 352.1 L849.0 350.0 L849.8 347.9 L850.6 345.8 L851.4 343.6 L852.2 341.4 L853.1 339.2 L853.9 337.0 L854.7 334.7 L855.5 332.4 L856.4 330.0 L857.2 327.7 L858.0 325.2 L858.8 322.8 L859.6 320.3 L860.5 317.8 L861.3 315.3 L862.1 312.7 L862.9 310.1 L863.7 307.4 L864.6 304.7 L865.4 302.0 L866.2 299.2 L867.0 296.4 L867.9 293.6 L868.7 290.7 L869.5 287.8 L870.3 284.8 L871.1 281.8 L872.0 278.8 L872.8 275.7 L873.6 272.5 L874.4 269.4 L875.2 266.1 L876.1 262.9 L876.9 259.5 L877.7 256.2 L878.5 252.8 L879.3 249.3 L880.2 245.8 L881.0 242.2 L881.8 238.6 L882.6 235.0 L883.5 231.2 L884.3 227.5 L885.1 223.6 L885.9 219.8 L886.7 215.8 L887.6 211.8 L888.4 207.8 L889.2 203.7 L890.0 199.5 L890.8 195.3 L891.7 191.0 L892.5 186.6 L893.3 182.2 L894.1 177.8 L895.0 173.2 L895.8 168.6 L896.6 163.9 L897.4 159.2 L898.2 154.4 L899.1 149.5 L899.9 144.5 L900.7 139.5 L901.5 134.4 L902.3 129.2 L903.2 123.9 L904.0 118.6 L904.8 113.2 L905.6 107.7 L906.4 102.1 L907.3 96.5 L908.1 90.7 L908.9 84.9 L909.7 79.0 L910.6 73.0 L911.4 66.9 L912.2 60.7 L913.0 54.5 L913.8 48.1 L914.7 41.6 L915.5 35.1 L916.3 28.4 L917.1 21.7 L917.9 14.8 L918.8 7.8 L919.6 0.8 L920.4 -6.4 L921.2 -13.7 L922.1 -21.1 L922.9 -28.6 L923.7 -36.2 L924.5 -43.9 L925.3 -51.7 L926.2 -59.7 L927.0 -67.8 L927.8 -76.0 L928.6 -84.3" stroke="#ea8c3b" stroke-opacity="0.8" stroke-width="3.0" fill="none" stroke-linejoin="round" stroke-dasharray="7.8 2.5"/>
</g>
</g>
<line x1="1454.500" y1="20" x2="1454.500" y2="116" stroke="#f3f3f3" stroke-width="1"/>
<text x="805.0 821.3 827.4 841.6 853.5 864.8" y="101.2" class="lb">O(n^2)</text>
<text x="713.7 730.3 736.7 751.0 764.3 774.6" y="214.8" class="lb">O(n^3)</text>
<text x="902.1 919.1 926.0 938.2 943.6" y="207.9" class="lb">O(n!)</text>
<text x="1000.3 1016.8 1023.0 1035.2" y="276.7" class="lb">O(n)</text>
<text x="1144.0 1160.5 1166.7 1179.0 1184.5 1189.6 1202.2 1214.7 1220.9 1232.5 1239.1" y="326.6" class="lb">O(n log(n))</text>
<text x="1018.7 1035.1 1042.7 1052.2" y="479.5" class="lb">O(1)</text>
<text x="1075.2 1092.0 1097.8 1102.8 1115.4 1128.2 1133.5 1145.8" y="528.6" class="lb">O(log n)</text>
</svg>
<div id="panel">
<div id="bar">
<svg width="169" height="28" viewBox="0 0 169 28" style="position:absolute;left:0;top:0">
<path d="M9 14.3H19M14 9.3V19.3" stroke="#444" stroke-width="1.7" fill="none"/>
<g fill="#454545"><path d="M56.6 11.0L56.6 16.7L62.3 16.7Z"/><path d="M58.4 14.0C60.1 10.0 65.5 8.0 69.5 11.9C66.0 11.0 62.8 12.0 61.0 16.0Z"/></g>
<g fill="#c8c8c8" transform="translate(147.6 0) scale(-1 1)"><path d="M56.6 11.0L56.6 16.7L62.3 16.7Z"/><path d="M58.4 14.0C60.1 10.0 65.5 8.0 69.5 11.9C66.0 11.0 62.8 12.0 61.0 16.0Z"/></g>
<g transform="translate(132.900 14.300) scale(0.9)" fill="#444"><circle r="3.600" fill="none" stroke="#444" stroke-width="2.100"/>
<g id="teeth"><rect x="-1.100" y="-5.700" width="2.200" height="2.200"/><rect x="-1.100" y="3.500" width="2.200" height="2.200"/><rect x="-5.700" y="-1.100" width="2.200" height="2.200"/><rect x="3.500" y="-1.100" width="2.200" height="2.200"/></g>
<g transform="rotate(45)"><rect x="-1.100" y="-5.700" width="2.200" height="2.200"/><rect x="-1.100" y="3.500" width="2.200" height="2.200"/><rect x="-5.700" y="-1.100" width="2.200" height="2.200"/><rect x="3.500" y="-1.100" width="2.200" height="2.200"/></g></g>
<path d="M154.500 9.800L150.300 14.300L154.500 18.800M158.700 9.800L154.500 14.300L158.700 18.800" fill="none" stroke="#444" stroke-width="1.200"/>
</svg>
</div>
<div class="row" style="top:28.5px;height:39.9px"><div class="tab"></div><span class="num">1</span><svg class="ic" style="top:7.2px" width="18.2" height="18.2" viewBox="0 0 18 18"><clipPath id="cc0"><circle cx="9" cy="9" r="9"/></clipPath><circle cx="9" cy="9" r="9" fill="#c74440"/><path clip-path="url(#cc0)" d="M0 16C1.800 12 3.600 4.300 5.200 4.300C7.600 4.300 9.800 13.500 12.300 13.500C14 13.500 16 8.500 18.300 3.800" fill="none" stroke="#fff" stroke-width="2.400"/></svg><div class="fx"><span class="t" style="left:36.65px;top:8.50px;font-size:15.80px;transform:skewX(-13deg) scaleX(1.12);transform-origin:0 14px;"><i>f</i></span><span class="t" style="left:48.00px;top:6.90px;font-size:15.10px;transform:scale(1.08,1.25);transform-origin:0 11.5px;">(</span><span class="t" style="left:55.30px;top:8.75px;font-size:15.10px;transform:scale(1.12,0.97);transform-origin:0 14px;"><i>x</i></span><span class="t" style="left:64.05px;top:6.90px;font-size:15.10px;transform:scale(1.08,1.25);transform-origin:0 11.5px;">)</span><span class="t" style="left:74.75px;top:10.55px;font-size:15.10px;transform:scale(1.42,0.9);transform-origin:0 9px;">=</span><span class="t" style="left:89.85px;top:8.85px;font-size:15.10px;">1</span></div><svg class="x" width="12" height="12" viewBox="0 0 12 12"><path d="M1 1L11 11M11 1L1 11" stroke="#c2c2c2" stroke-width="1.9" fill="none"/></svg></div>
<div class="row" style="top:68.4px;height:39.9px"><div class="tab"></div><span class="num">2</span><svg class="ic" style="top:7.4px" width="18.2" height="18.2" viewBox="0 0 18 18"><clipPath id="cc1"><circle cx="9" cy="9" r="9"/></clipPath><circle cx="9" cy="9" r="9" fill="#2d70b3"/><path clip-path="url(#cc1)" d="M0 16C1.800 12 3.600 4.300 5.200 4.300C7.600 4.300 9.800 13.500 12.300 13.500C14 13.500 16 8.500 18.300 3.800" fill="none" stroke="#fff" stroke-width="2.400"/></svg><div class="fx"><span class="t" style="left:32.75px;top:8.60px;font-size:15.80px;transform:skewX(-13deg) scaleX(1.12);transform-origin:0 14px;"><i>f</i></span><span class="t" style="left:44.10px;top:7.00px;font-size:15.10px;transform:scale(1.08,1.25);transform-origin:0 11.5px;">(</span><span class="t" style="left:51.40px;top:8.85px;font-size:15.10px;transform:scale(1.12,0.97);transform-origin:0 14px;"><i>x</i></span><span class="t" style="left:60.15px;top:7.00px;font-size:15.10px;transform:scale(1.08,1.25);transform-origin:0 11.5px;">)</span><span class="t" style="left:70.85px;top:10.65px;font-size:15.10px;transform:scale(1.42,0.9);transform-origin:0 9px;">=</span><span class="t" style="left:86.60px;top:8.80px;font-size:15.10px;">log</span><span class="t" style="left:109.50px;top:8.85px;font-size:15.10px;transform:scale(1.12,0.97);transform-origin:0 14px;"><i>x</i></span></div><svg class="x" width="12" height="12" viewBox="0 0 12 12"><path d="M1 1L11 11M11 1L1 11" stroke="#c2c2c2" stroke-width="1.9" fill="none"/></svg></div>
<div class="row" style="top:108.3px;height:39.9px"><div class="tab"></div><span class="num">3</span><svg class="ic" style="top:7.3px" width="18.2" height="18.2" viewBox="0 0 18 18"><clipPath id="cc2"><circle cx="9" cy="9" r="9"/></clipPath><circle cx="9" cy="9" r="9" fill="#388c46"/><path clip-path="url(#cc2)" d="M0 16C1.800 12 3.600 4.300 5.200 4.300C7.600 4.300 9.800 13.500 12.300 13.500C14 13.500 16 8.500 18.300 3.800" fill="none" stroke="#fff" stroke-width="2.400"/></svg><div class="fx"><span class="t" style="left:36.65px;top:8.70px;font-size:15.80px;transform:skewX(-13deg) scaleX(1.12);transform-origin:0 14px;"><i>f</i></span><span class="t" style="left:48.00px;top:7.10px;font-size:15.10px;transform:scale(1.08,1.25);transform-origin:0 11.5px;">(</span><span class="t" style="left:55.30px;top:8.95px;font-size:15.10px;transform:scale(1.12,0.97);transform-origin:0 14px;"><i>x</i></span><span class="t" style="left:64.05px;top:7.10px;font-size:15.10px;transform:scale(1.08,1.25);transform-origin:0 11.5px;">)</span><span class="t" style="left:74.75px;top:10.75px;font-size:15.10px;transform:scale(1.42,0.9);transform-origin:0 9px;">=</span><span class="t" style="left:89.60px;top:8.95px;font-size:15.10px;transform:scale(1.12,0.97);transform-origin:0 14px;"><i>x</i></span></div><svg class="x" width="12" height="12" viewBox="0 0 12 12"><path d="M1 1L11 11M11 1L1 11" stroke="#c2c2c2" stroke-width="1.9" fill="none"/></svg></div>
<div class="row" style="top:148.2px;height:40.0px"><div class="tab"></div><span class="num">4</span><svg class="ic" style="top:7.3px" width="18.2" height="18.2" viewBox="0 0 18 18"><clipPath id="cc3"><circle cx="9" cy="9" r="9"/></clipPath><circle cx="9" cy="9" r="9" fill="#e98333"/><path clip-path="url(#cc3)" d="M0 16C1.800 12 3.600 4.300 5.200 4.300C7.600 4.300 9.800 13.500 12.300 13.500C14 13.500 16 8.500 18.300 3.800" fill="none" stroke="#fff" stroke-width="2.400"/></svg><div class="fx"><span class="t" style="left:32.75px;top:8.80px;font-size:15.80px;transform:skewX(-13deg) scaleX(1.12);transform-origin:0 14px;"><i>f</i></span><span class="t" style="left:44.10px;top:7.20px;font-size:15.10px;transform:scale(1.08,1.25);transform-origin:0 11.5px;">(</span><span class="t" style="left:51.40px;top:9.05px;font-size:15.10px;transform:scale(1.12,0.97);transform-origin:0 14px;"><i>x</i></span><span class="t" style="left:60.15px;top:7.20px;font-size:15.10px;transform:scale(1.08,1.25);transform-origin:0 11.5px;">)</span><span class="t" style="left:70.85px;top:10.85px;font-size:15.10px;transform:scale(1.42,0.9);transform-origin:0 9px;">=</span><span class="t" style="left:85.70px;top:9.05px;font-size:15.10px;transform:scale(1.12,0.97);transform-origin:0 14px;"><i>x</i></span><span class="t" style="left:96.70px;top:9.00px;font-size:15.10px;">log</span><span class="t" style="left:117.90px;top:7.20px;font-size:15.10px;transform:scale(1.08,1.25);transform-origin:0 11.5px;">(</span><span class="t" style="left:125.20px;top:9.05px;font-size:15.10px;transform:scale(1.12,0.97);transform-origin:0 14px;"><i>x</i></span><span class="t" style="left:133.85px;top:7.20px;font-size:15.10px;transform:scale(1.08,1.25);transform-origin:0 11.5px;">)</span></div><svg class="x" width="12" height="12" viewBox="0 0 12 12"><path d="M1 1L11 11M11 1L1 11" stroke="#c2c2c2" stroke-width="1.9" fill="none"/></svg></div>
<div class="row" style="top:188.2px;height:43.9px"><div class="tab"></div><span class="num">5</span><svg class="ic" style="top:7.5px" width="18.2" height="18.2" viewBox="0 0 18 18"><clipPath id="cc4"><circle cx="9" cy="9" r="9"/></clipPath><circle cx="9" cy="9" r="9" fill="#6042a6"/><path clip-path="url(#cc4)" d="M0 16C1.800 12 3.600 4.300 5.200 4.300C7.600 4.300 9.800 13.500 12.300 13.500C14 13.500 16 8.500 18.300 3.800" fill="none" stroke="#fff" stroke-width="2.400"/></svg><div class="fx"><span class="t" style="left:32.75px;top:13.20px;font-size:15.80px;transform:skewX(-13deg) scaleX(1.12);transform-origin:0 14px;"><i>f</i></span><span class="t" style="left:44.10px;top:11.60px;font-size:15.10px;transform:scale(1.08,1.25);transform-origin:0 11.5px;">(</span><span class="t" style="left:51.40px;top:13.45px;font-size:15.10px;transform:scale(1.12,0.97);transform-origin:0 14px;"><i>x</i></span><span class="t" style="left:60.15px;top:11.60px;font-size:15.10px;transform:scale(1.08,1.25);transform-origin:0 11.5px;">)</span><span class="t" style="left:70.85px;top:15.25px;font-size:15.10px;transform:scale(1.42,0.9);transform-origin:0 9px;">=</span><span class="t" style="left:85.70px;top:13.45px;font-size:15.10px;transform:scale(1.12,0.97);transform-origin:0 14px;"><i>x</i></span><span class="t" style="left:93.10px;top:6.15px;font-size:13.59px;">2</span></div><svg class="x" width="12" height="12" viewBox="0 0 12 12"><path d="M1 1L11 11M11 1L1 11" stroke="#c2c2c2" stroke-width="1.9" fill="none"/></svg></div>
<div class="row" style="top:232.1px;height:44.8px"><div class="tab"></div><span class="num">6</span><svg class="ic" style="top:8.1px" width="18.2" height="18.2" viewBox="0 0 18 18"><clipPath id="cc5"><circle cx="9" cy="9" r="9"/></clipPath><circle cx="9" cy="9" r="9" fill="#000000"/><path clip-path="url(#cc5)" d="M0 16C1.800 12 3.600 4.300 5.200 4.300C7.600 4.300 9.800 13.500 12.300 13.500C14 13.500 16 8.500 18.300 3.800" fill="none" stroke="#fff" stroke-width="2.400"/></svg><div class="fx"><span class="t" style="left:32.75px;top:13.20px;font-size:15.80px;transform:skewX(-13deg) scaleX(1.12);transform-origin:0 14px;"><i>f</i></span><span class="t" style="left:44.10px;top:11.60px;font-size:15.10px;transform:scale(1.08,1.25);transform-origin:0 11.5px;">(</span><span class="t" style="left:51.40px;top:13.45px;font-size:15.10px;transform:scale(1.12,0.97);transform-origin:0 14px;"><i>x</i></span><span class="t" style="left:60.15px;top:11.60px;font-size:15.10px;transform:scale(1.08,1.25);transform-origin:0 11.5px;">)</span><span class="t" style="left:70.85px;top:15.25px;font-size:15.10px;transform:scale(1.42,0.9);transform-origin:0 9px;">=</span><span class="t" style="left:85.70px;top:13.45px;font-size:15.10px;transform:scale(1.12,0.97);transform-origin:0 14px;"><i>x</i></span><span class="t" style="left:93.30px;top:6.35px;font-size:13.59px;">3</span></div><svg class="x" width="12" height="12" viewBox="0 0 12 12"><path d="M1 1L11 11M11 1L1 11" stroke="#c2c2c2" stroke-width="1.9" fill="none"/></svg></div>
<div class="row" style="top:276.9px;height:39.9px"><div class="tab"></div><span class="num">7</span><svg class="ic" style="top:7.8px" width="18.2" height="18.2" viewBox="0 0 18 18"><clipPath id="cc6"><circle cx="9" cy="9" r="9"/></clipPath><circle cx="9" cy="9" r="9" fill="#e98333"/><g fill="none" stroke="#fff" stroke-width="2.300"><path d="M-0.300 12.200L0.900 10"/><path d="M2.100 9.200C2.800 5.600 3.800 3.900 5 3.900C6.300 3.900 7.300 5.800 8.200 8.600"/><path d="M9.300 9.600C10.200 12.400 11.400 14.100 12.800 14.100C14.100 14.100 15.200 12.200 15.900 9"/><path d="M17 7.800L18.200 5.800"/></g></svg><div class="fx"><span class="t" style="left:32.75px;top:8.50px;font-size:15.80px;transform:skewX(-13deg) scaleX(1.12);transform-origin:0 14px;"><i>f</i></span><span class="t" style="left:44.10px;top:6.90px;font-size:15.10px;transform:scale(1.08,1.25);transform-origin:0 11.5px;">(</span><span class="t" style="left:51.40px;top:8.75px;font-size:15.10px;transform:scale(1.12,0.97);transform-origin:0 14px;"><i>x</i></span><span class="t" style="left:60.15px;top:6.90px;font-size:15.10px;transform:scale(1.08,1.25);transform-origin:0 11.5px;">)</span><span class="t" style="left:70.85px;top:10.55px;font-size:15.10px;transform:scale(1.42,0.9);transform-origin:0 9px;">=</span><span class="t" style="left:85.70px;top:8.75px;font-size:15.10px;transform:scale(1.12,0.97);transform-origin:0 14px;"><i>x</i></span><span class="t" style="left:93.00px;top:9.05px;font-size:15.10px;">!</span></div><svg class="x" width="12" height="12" viewBox="0 0 12 12"><path d="M1 1L11 11M11 1L1 11" stroke="#c2c2c2" stroke-width="1.9" fill="none"/></svg></div>
<div class="row" style="top:316.8px;height:30px;border-bottom:none"><div class="tab" style="background:linear-gradient(#f4f4f4,#fff);border-right:1px solid transparent;border-image:linear-gradient(#e4e4e4,#fff) 1"></div><span class="num">8</span></div>
</div>
<div id="kb"><svg width="45" height="23" viewBox="0 0 45 23" style="position:absolute;left:0;top:0">
<rect x="8.300" y="4.900" width="15.600" height="9.300" rx="1.500" fill="none" stroke="#555" stroke-width="1.200"/>
<path d="M10.600 7.700H21.800" stroke="#555" stroke-width="1" stroke-dasharray="1.200 1"/>
<path d="M12.100 9.800H20.400" stroke="#555" stroke-width="1" stroke-dasharray="1.200 1"/>
<path d="M12.600 12H19.600" stroke="#555" stroke-width="1"/>
<path d="M29.200 13.700L32.800 9.900L36.400 13.700Z" fill="#555"/>
</svg></div>
<div id="pw">技术支持</div>
<div id="dm">desmos</div>
</body></html>
